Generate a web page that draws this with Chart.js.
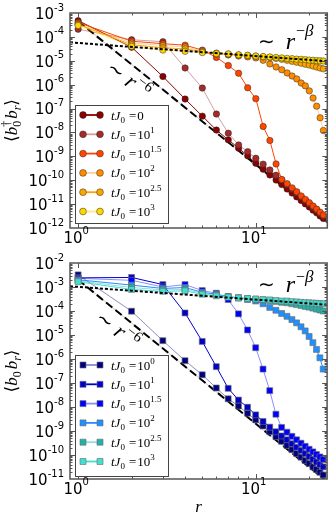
<!DOCTYPE html>
<html>
<head>
<meta charset="utf-8">
<script src="https://cdn.jsdelivr.net/npm/chart.js@4.4.0/dist/chart.umd.min.js"></script>
<style>
  html, body { margin: 0; padding: 0; background: #fff; }
  #wrap { position: relative; width: 332px; height: 519px; }
  canvas { position: absolute; left: 0; }
</style>
</head>
<body>
<div id="wrap">
  <canvas id="topChart" width="332" height="250" style="top:0;width:332px;height:250px"></canvas>
  <canvas id="botChart" width="332" height="269" style="top:250px;width:332px;height:269px"></canvas>
</div>
<script>
// distance r
const rValues = [1, 2, 3, 4, 5, 6, 7, 8, 9, 10, 11, 12, 13, 14, 15, 16, 17, 18, 19, 20, 21, 22, 23, 24];

// top panel: <b0^dagger b_r>
const topT0 = [4.8e-4, 3.7e-5, 2.2e-6, 2.5e-7, 4.8e-8, 1.26e-8, 4.9e-9, 2.2e-9, 1.05e-9, 5.1e-10, 2.9e-10, 1.66e-10, 1.02e-10, 6.6e-11, 4.3e-11, 2.9e-11, 2.0e-11, 1.41e-11, 1.02e-11, 7.6e-12, 5.6e-12, 4.3e-12, 3.2e-12, 2.5e-12];
const topT1 = [2.1e-4, 7.6e-5, 6.3e-5, 5.0e-6, 7.2e-7, 5.9e-8, 9.3e-9, 3.0e-9, 1.58e-9, 8.3e-10, 4.7e-10, 2.7e-10, 1.62e-10, 1.02e-10, 6.5e-11, 4.3e-11, 2.95e-11, 2.0e-11, 1.41e-11, 1.02e-11, 7.4e-12, 5.5e-12, 4.1e-12, 3.2e-12];
const topT15 = [4.0e-4, 6.6e-5, 5.2e-5, 4.5e-5, 2.8e-5, 1.38e-5, 6.3e-6, 3.0e-6, 7.4e-7, 2.6e-7, 1.78e-8, 4.6e-9, 4.8e-10, 1.07e-10, 7.2e-11, 4.8e-11, 3.3e-11, 2.2e-11, 1.58e-11, 1.15e-11, 8.3e-12, 6.2e-12, 4.6e-12, 3.5e-12];
const topT2 = [3.5e-4, 5.5e-5, 4.4e-5, 3.8e-5, 2.6e-5, 1.9e-5, 1.74e-5, 1.58e-5, 1.45e-5, 1.32e-5, 1.05e-5, 7.4e-6, 5.5e-6, 4.2e-6, 3.1e-6, 2.3e-6, 1.74e-6, 1.17e-6, 8.9e-7, 5.5e-7, 2.75e-7, 1.26e-7, 4.1e-8, 1.2e-8];
const topT25 = [3.3e-4, 4.7e-5, 3.5e-5, 3.16e-5, 2.4e-5, 2.1e-5, 1.9e-5, 1.74e-5, 1.66e-5, 1.55e-5, 1.45e-5, 1.35e-5, 1.26e-5, 1.15e-5, 1.05e-5, 9.5e-6, 8.7e-6, 7.9e-6, 7.2e-6, 6.6e-6, 6.0e-6, 5.5e-6, 5.0e-6, 4.6e-6];
const topT3 = [3.0e-4, 4.0e-5, 2.8e-5, 2.5e-5, 2.2e-5, 2.0e-5, 1.95e-5, 1.78e-5, 1.7e-5, 1.58e-5, 1.51e-5, 1.45e-5, 1.38e-5, 1.32e-5, 1.26e-5, 1.23e-5, 1.17e-5, 1.15e-5, 1.12e-5, 1.07e-5, 1.05e-5, 1.02e-5, 1.0e-5, 9.8e-6];

// bottom panel: <b0 b_r>
const botT0 = [3.2e-3, 9.8e-5, 5.8e-6, 8.5e-7, 2.2e-7, 6.2e-8, 2.2e-8, 1.1e-8, 5.5e-9, 2.9e-9, 1.62e-9, 9.3e-10, 5.8e-10, 3.7e-10, 2.5e-10, 1.66e-10, 1.15e-10, 8.1e-11, 5.9e-11, 4.4e-11, 3.2e-11, 2.5e-11, 1.9e-11, 1.48e-11];
const botT1 = [2.4e-3, 2.5e-3, 1.26e-3, 8.3e-5, 5.4e-6, 4.8e-7, 6.0e-8, 1.95e-8, 9.8e-9, 4.7e-9, 2.5e-9, 1.45e-9, 9.3e-10, 6.2e-10, 4.3e-10, 2.95e-10, 2.1e-10, 1.55e-10, 1.15e-10, 8.7e-11, 6.6e-11, 5.1e-11, 4.0e-11, 3.2e-11];
const botT15 = [2.3e-3, 1.9e-3, 1.0e-3, 1.26e-3, 7.1e-4, 5.5e-4, 3.0e-4, 7.6e-5, 1.62e-5, 2.95e-6, 3.8e-7, 4.8e-8, 5.0e-9, 1.41e-9, 8.9e-10, 6.0e-10, 4.3e-10, 3.1e-10, 2.3e-10, 1.74e-10, 1.35e-10, 1.05e-10, 8.3e-11, 6.6e-11];
const botT2 = [2.0e-3, 1.2e-3, 8.7e-4, 9.5e-4, 6.0e-4, 5.0e-4, 4.0e-4, 3.5e-4, 3.0e-4, 2.6e-4, 2.0e-4, 1.41e-4, 1.07e-4, 7.9e-5, 6.0e-5, 4.4e-5, 3.2e-5, 2.2e-5, 1.48e-5, 8.7e-6, 4.8e-6, 2.5e-6, 1.12e-6, 3.8e-7];
const botT25 = [1.82e-3, 9.5e-4, 7.6e-4, 7.9e-4, 5.5e-4, 4.6e-4, 4.0e-4, 3.6e-4, 3.3e-4, 3.1e-4, 2.9e-4, 2.7e-4, 2.5e-4, 2.3e-4, 2.2e-4, 2.0e-4, 1.86e-4, 1.7e-4, 1.55e-4, 1.45e-4, 1.32e-4, 1.2e-4, 1.1e-4, 1.0e-4];
const botT3 = [1.66e-3, 7.9e-4, 6.6e-4, 6.9e-4, 5.0e-4, 4.3e-4, 3.8e-4, 3.5e-4, 3.3e-4, 3.16e-4, 3.0e-4, 2.9e-4, 2.75e-4, 2.6e-4, 2.6e-4, 2.45e-4, 2.4e-4, 2.3e-4, 2.24e-4, 2.2e-4, 2.14e-4, 2.1e-4, 2.04e-4, 2.0e-4];

// guide lines (~r^-6 dashed, ~r^-beta dotted)
const guide6X = [1, 25.25];
const topGuide6Y = [4.5e-4, 1.75e-12];
const botGuide6Y = [2.0e-3, 7.8e-12];
const guideBetaX = [0.9, 25.25];
const topGuideBetaY = [5.9e-5, 9.5e-6];
const botGuideBetaY = [1.07e-3, 1.82e-4];

// legend exponents (tJ0 = 10^x), null = plain 0
const topLegendExp = [null, '1', '1.5', '2', '2.5', '3'];
const botLegendExp = ['0', '1', '1.5', '2', '2.5', '3'];

// tick labels
const xMajorTicks = [1, 10];
const xMajorExp = ['0', '1'];
const topYExp = [-12, -11, -10, -9, -8, -7, -6, -5, -4, -3];
const botYExp = [-11, -10, -9, -8, -7, -6, -5, -4, -3, -2];

const topColors = [
  { fill: '#8b0000', line: '#8b0000' },
  { fill: '#a52a2a', line: 'rgba(165,42,42,0.45)' },
  { fill: '#ff4500', line: '#ff4500' },
  { fill: '#ff8c00', line: 'rgba(255,140,0,0.4)' },
  { fill: '#ffa500', line: '#ffa500' },
  { fill: '#ffd700', line: 'rgba(255,215,0,0.5)' },
];
const botColors = [
  { fill: '#000080', line: 'rgba(0,0,128,0.45)' },
  { fill: '#0000cd', line: '#0000cd' },
  { fill: '#0000ff', line: 'rgba(0,0,255,0.45)' },
  { fill: '#1e90ff', line: '#1e90ff' },
  { fill: '#20b2aa', line: 'rgba(32,178,170,0.45)' },
  { fill: '#40e0d0', line: '#40e0d0' },
];

const AXIS = '#555';
const SERIF = '"Liberation Serif", "DejaVu Serif", serif';
const SANS = '"DejaVu Sans", sans-serif';

function pts(xs, ys) {
  return xs.map((x, i) => ({ x: x, y: ys[i] }));
}

function seriesSet(list, colors, style) {
  return list.map((ys, i) => ({
    data: pts(rValues, ys),
    borderColor: colors[i].line,
    borderWidth: 1,
    pointStyle: style,
    pointRadius: style === 'circle' ? 3.2 : 4.2,
    pointBackgroundColor: colors[i].fill,
    pointBorderColor: style === 'circle' ? 'rgba(40,40,40,0.7)' : 'rgba(110,110,110,0.9)',
    pointBorderWidth: 0.7,
    order: 20 - i,
  }));
}

function guideSets(y6, yb) {
  return [
    { data: pts(guide6X, y6), borderColor: '#bbb', borderWidth: 0.8, pointRadius: 0, order: 31 },
    { data: pts(guide6X, y6), borderColor: '#000', borderWidth: 2, borderDash: [8, 4], pointRadius: 0, order: 30 },
    { data: pts(guideBetaX, yb), borderColor: '#000', borderWidth: 2, borderDash: [3, 2], pointRadius: 0, order: 0 },
  ];
}

// draw a run of text pieces, returns the width
function rich(ctx, parts, x, y, draw) {
  let cx = x;
  for (const p of parts) {
    if (p.gap) { cx += p.gap; continue; }
    ctx.font = p.f;
    const w = ctx.measureText(p.t).width;
    if (draw) ctx.fillText(p.t, cx, y + (p.dy || 0));
    if (!p.stack) cx += w;
  }
  return cx - x;
}

function drawTicks(chart, yExp) {
  const { ctx, chartArea: a, scales } = chart;
  const xs = scales.x, ys = scales.y;
  ctx.strokeStyle = AXIS;
  ctx.lineWidth = 1;
  const seg = (x1, y1, x2, y2) => { ctx.beginPath(); ctx.moveTo(x1, y1); ctx.lineTo(x2, y2); ctx.stroke(); };
  // y ticks
  for (let k = yExp[0] - 1; k <= yExp[yExp.length - 1]; k++) {
    for (let m = 1; m <= 9; m++) {
      const v = m * Math.pow(10, k);
      const py = Math.round(ys.getPixelForValue(v)) + 0.5;
      if (py <= a.top + 1 || py >= a.bottom - 1) continue;
      const len = m === 1 ? 5 : 2.5;
      seg(a.left, py, a.left + len, py);
      seg(a.right, py, a.right - len, py);
    }
  }
  // x ticks
  for (let k = -1; k <= 1; k++) {
    for (let m = 1; m <= 9; m++) {
      const v = m * Math.pow(10, k);
      const px = Math.round(xs.getPixelForValue(v)) + 0.5;
      if (px <= a.left + 1 || px >= a.right - 1) continue;
      const len = m === 1 ? 5 : 2.5;
      seg(px, a.bottom, px, a.bottom - len);
      seg(px, a.top, px, a.top + len);
    }
  }
  ctx.lineWidth = 1.5;
  ctx.strokeRect(a.left, a.top, a.right - a.left, a.bottom - a.top);
}

function drawTickLabels(chart, yExp) {
  const { ctx, chartArea: a, scales } = chart;
  ctx.fillStyle = '#000';
  ctx.textBaseline = 'middle';
  ctx.textAlign = 'left';
  for (const k of yExp) {
    const py = scales.y.getPixelForValue(Math.pow(10, k));
    const parts = [
      { t: '10', f: '15px ' + SANS, dy: 2 },
      { t: '-' + String(-k), f: '10px ' + SANS, dy: -5 },
    ];
    const w = rich(ctx, parts, 0, 0, false);
    rich(ctx, parts, 64 - w, py, true);
  }
  xMajorTicks.forEach((v, i) => {
    const px = scales.x.getPixelForValue(v);
    const parts = [
      { t: '10', f: '15px ' + SANS, dy: 11 },
      { t: xMajorExp[i], f: '10px ' + SANS, dy: 3 },
    ];
    const w = rich(ctx, parts, 0, 0, false);
    rich(ctx, parts, px - w / 2 - 2, a.bottom, true);
  });
}

function drawMarker(ctx, style, x, y, fill, edge) {
  ctx.fillStyle = fill;
  ctx.strokeStyle = edge;
  ctx.lineWidth = 0.7;
  ctx.beginPath();
  if (style === 'circle') ctx.arc(x, y, 3.4, 0, Math.PI * 2);
  else ctx.rect(x - 3, y - 3, 6, 6);
  ctx.fill();
  ctx.stroke();
}

function drawLegend(chart, colors, exps, style, boxH) {
  const { ctx, chartArea: a } = chart;
  const bx = a.left + 5, by = a.top + 92, bw = 93;
  ctx.fillStyle = '#fff';
  ctx.fillRect(bx, by, bw, boxH);
  ctx.strokeStyle = '#444';
  ctx.lineWidth = 1;
  ctx.strokeRect(bx + 0.5, by + 0.5, bw, boxH);
  const it = 'italic 13px ' + SERIF, up = '13px ' + SERIF, sm = '9px ' + SERIF;
  ctx.textBaseline = 'alphabetic';
  colors.forEach((c, i) => {
    const y = by + 10 + i * 19.3;
    ctx.strokeStyle = c.line;
    ctx.lineWidth = 1.8;
    ctx.beginPath(); ctx.moveTo(bx + 8, y); ctx.lineTo(bx + 25, y); ctx.stroke();
    const edge = style === 'circle' ? 'rgba(40,40,40,0.7)' : 'rgba(110,110,110,0.9)';
    drawMarker(ctx, style, bx + 8, y, c.fill, edge);
    drawMarker(ctx, style, bx + 25, y, c.fill, edge);
    const parts = [
      { t: 't', f: it }, { t: 'J', f: it }, { t: '0', f: sm, dy: 3 },
      { gap: 4 }, { t: '=', f: up }, { gap: 1 },
    ];
    if (exps[i] === null) parts.push({ t: '0', f: up });
    else parts.push({ t: '10', f: up }, { t: exps[i], f: sm, dy: -6 });
    ctx.fillStyle = '#000';
    rich(ctx, parts, bx + 36, y + 4.5, true);
  });
}

function drawAnnotations(chart, betaY, betaDy, simX, simY) {
  const { ctx, chartArea: a } = chart;
  ctx.fillStyle = '#000';
  ctx.textBaseline = 'alphabetic';
  // ~ r^-beta
  rich(ctx, [
    { t: '\u223c', f: '20px ' + SANS, dy: -1 }, { gap: 11 },
    { t: 'r', f: 'italic 24px ' + SERIF },
    { gap: 1 }, { t: '\u2212', f: '16px ' + SERIF, dy: betaDy }, { t: '\u03b2', f: 'italic 17px ' + SERIF, dy: betaDy },
  ], a.left + 188, betaY, true);
  // ~ r^-6, rotated along the dashed line
  ctx.save();
  ctx.translate(simX, simY);
  ctx.rotate(38 * Math.PI / 180);
  rich(ctx, [
    { t: '\u223c', f: '20px ' + SANS }, { gap: 6 },
    { t: 'r', f: 'italic 22px ' + SERIF },
    { gap: 1 }, { t: '\u2212', f: '15px ' + SERIF, dy: -9 }, { t: '6', f: '15px ' + SERIF, dy: -9 },
  ], 0, 0, true);
  ctx.restore();
}

function drawYLabel(chart, dagger) {
  const { ctx, chartArea: a } = chart;
  const cy = (a.top + a.bottom) / 2;
  const big = 'italic 17px ' + SERIF, br = '17px "DejaVu Serif", serif', sm = '12px ' + SERIF, smi = 'italic 12px ' + SERIF;
  const parts = [{ t: '\u27e8', f: br }, { t: 'b', f: big }];
  if (dagger) parts.push({ t: '0', f: sm, dy: 4, stack: true }, { t: '\u2020', f: sm, dy: -7 });
  else parts.push({ t: '0', f: sm, dy: 4 });
  parts.push({ gap: 2 }, { t: 'b', f: big }, { t: 'r', f: smi, dy: 4 }, { t: '\u27e9', f: br });
  ctx.save();
  ctx.fillStyle = '#000';
  ctx.textBaseline = 'alphabetic';
  ctx.translate(17, cy);
  ctx.rotate(-Math.PI / 2);
  const w = rich(ctx, parts, 0, 0, false);
  rich(ctx, parts, -w / 2, 0, true);
  ctx.restore();
}

function makePanel(canvasId, seriesLists, colors, style, guides, yMin, yMax, yExp, padBottom, deco) {
  return new Chart(document.getElementById(canvasId).getContext('2d'), {
    type: 'line',
    data: { datasets: seriesSet(seriesLists, colors, style).concat(guides) },
    options: {
      responsive: false,
      animation: false,
      devicePixelRatio: 1,
      events: [],
      layout: { padding: { left: 70, top: 13, right: 3, bottom: padBottom } },
      plugins: { legend: { display: false }, tooltip: { enabled: false } },
      scales: {
        x: { type: 'logarithmic', min: 0.9, max: 25.25, display: false },
        y: { type: 'logarithmic', min: yMin, max: yMax, display: false },
      },
    },
    plugins: [{
      id: 'panelDecor',
      afterDraw(chart) {
        const ctx = chart.ctx;
        ctx.save();
        drawTicks(chart, yExp);
        drawTickLabels(chart, yExp);
        deco(chart);
        ctx.restore();
      },
    }],
  });
}

makePanel('topChart', [topT0, topT1, topT15, topT2, topT25, topT3], topColors, 'circle',
  guideSets(topGuide6Y, topGuideBetaY), 1e-12, 1e-3, topYExp, 22, (chart) => {
    drawLegend(chart, topColors, topLegendExp, 'circle', 118);
    drawAnnotations(chart, 49, -13, 105.6, 70.3);
    drawYLabel(chart, true);
  });

makePanel('botChart', [botT0, botT1, botT15, botT2, botT25, botT3], botColors, 'rect',
  guideSets(botGuide6Y, botGuideBetaY), 1e-11, 1e-2, botYExp, 40, (chart) => {
    drawLegend(chart, botColors, botLegendExp, 'rect', 121);
    drawAnnotations(chart, 41.7, -10, 94.6, 70.3);
    drawYLabel(chart, false);
    const ctx = chart.ctx;
    ctx.fillStyle = '#000';
    ctx.textAlign = 'center';
    ctx.textBaseline = 'alphabetic';
    ctx.font = 'italic 17px ' + SERIF;
    ctx.fillText('r', (chart.chartArea.left + chart.chartArea.right) / 2, 262);
  });
</script>
</body>
</html>
